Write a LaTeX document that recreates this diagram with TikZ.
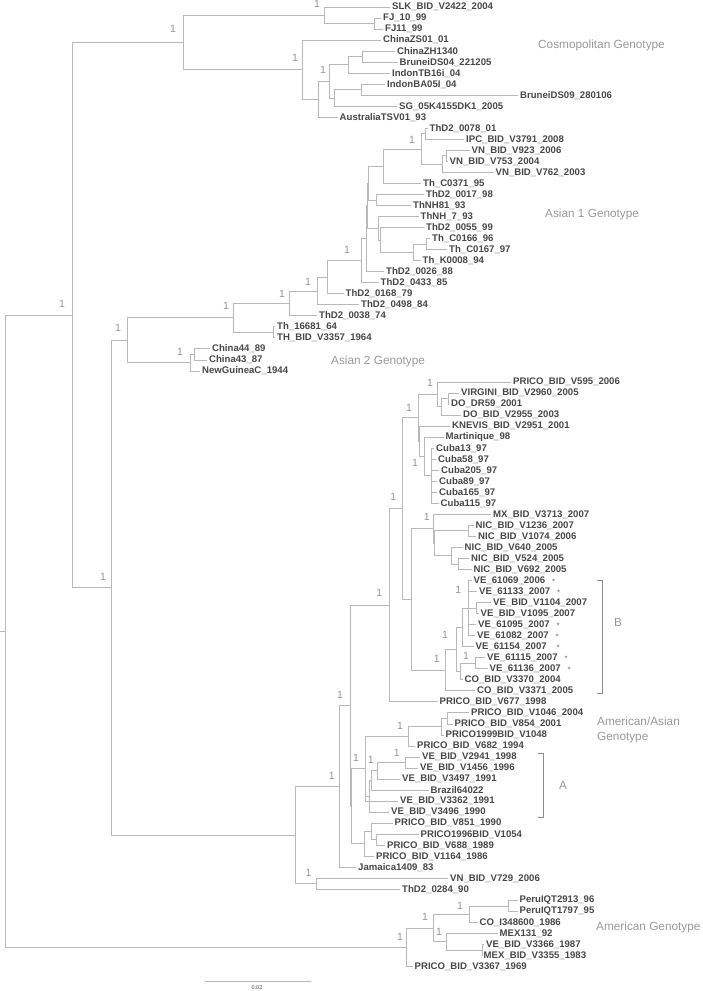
\documentclass[tikz,border=0pt]{standalone}
\usepackage{fontspec}
\setmainfont{Liberation Sans}
\usetikzlibrary{positioning}
\begin{document}
\begin{tikzpicture}[x=1pt, y=-1pt,
    br/.style={draw=black!28, line width=0.9pt},
    leaf/.style={anchor=west, inner xsep=2pt, inner ysep=0pt, text=black!72, font=\fontsize{9.6}{10}\selectfont\bfseries},
    supp/.style={text=black!42, inner sep=0pt, font=\fontsize{10.5}{11}\selectfont},
    geno/.style={anchor=west, inner sep=0pt, align=left, text=black!40, font=\fontsize{11.8}{15}\selectfont},
    ast/.style={inner sep=0.5pt, text=black!55, font=\fontsize{8}{8}\selectfont},
    brk/.style={draw=black!45, line width=0.8pt}]
    \useasboundingbox (0,0) rectangle (703,991);
    % taxa, one row each
    \foreach \x/\t [count=\i] in {
        390/SLK\_BID\_V2422\_2004, 381/FJ\_10\_99, 383/FJ11\_99, 381/ChinaZS01\_01,
        395/ChinaZH1340, 397.5/BruneiDS04\_221205, 390/IndonTB16i\_04, 385/IndonBA05I\_04,
        518/BruneiDS09\_280106, 397/SG\_05K4155DK1\_2005, 337.5/AustraliaTSV01\_93,
        427.5/ThD2\_0078\_01, 464/IPC\_BID\_V3791\_2008, 469.5/VN\_BID\_V923\_2006,
        447.5/VN\_BID\_V753\_2004, 493.5/VN\_BID\_V762\_2003, 421/Th\_C0371\_95,
        424/ThD2\_0017\_98, 411/ThNH81\_93, 418.5/ThNH\_7\_93, 424/ThD2\_0055\_99,
        430/Th\_C0166\_96, 447/Th\_C0167\_97, 420.5/Th\_K0008\_94, 384/ThD2\_0026\_88,
        378.5/ThD2\_0433\_85, 343.5/ThD2\_0168\_79, 359/ThD2\_0498\_84, 317/ThD2\_0038\_74,
        275/Th\_16681\_64, 275/TH\_BID\_V3357\_1964, 210/China44\_89, 207/China43\_87,
        200/NewGuineaC\_1944,
        511/PRICO\_BID\_V595\_2006, 459/VIRGINI\_BID\_V2960\_2005, 449/DO\_DR59\_2001,
        461/DO\_BID\_V2955\_2003, 450/KNEVIS\_BID\_V2951\_2001, 443.5/Martinique\_98,
        434/Cuba13\_97, 436/Cuba58\_97, 439/Cuba205\_97, 437/Cuba89\_97, 437/Cuba165\_97,
        438.5/Cuba115\_97, 491/MX\_BID\_V3713\_2007, 473.5/NIC\_BID\_V1236\_2007,
        476/NIC\_BID\_V1074\_2006, 462.5/NIC\_BID\_V640\_2005, 469/NIC\_BID\_V524\_2005,
        471.5/NIC\_BID\_V692\_2005, 471.5/VE\_61069\_2006, 477/VE\_61133\_2007,
        491/VE\_BID\_V1104\_2007, 478.5/VE\_BID\_V1095\_2007, 476/VE\_61095\_2007,
        475/VE\_61082\_2007, 473.5/VE\_61154\_2007, 485/VE\_61115\_2007, 487.5/VE\_61136\_2007,
        462.5/CO\_BID\_V3370\_2004, 475/CO\_BID\_V3371\_2005, 437.5/PRICO\_BID\_V677\_1998,
        469/PRICO\_BID\_V1046\_2004, 452.5/PRICO\_BID\_V854\_2001, 443.5/PRICO1999BID\_V1048,
        415/PRICO\_BID\_V682\_1994, 420/VE\_BID\_V2941\_1998, 418/VE\_BID\_V1456\_1996,
        400/VE\_BID\_V3497\_1991, 428.5/Brazil64022, 398/VE\_BID\_V3362\_1991,
        389/VE\_BID\_V3496\_1990, 392.5/PRICO\_BID\_V851\_1990, 418.5/PRICO1996BID\_V1054,
        385/PRICO\_BID\_V688\_1989, 374/PRICO\_BID\_V1164\_1986, 356/Jamaica1409\_83,
        448/VN\_BID\_V729\_2006, 400/ThD2\_0284\_90,
        517.5/PeruIQT2913\_96, 517.5/PeruIQT1797\_95, 477.5/CO\_I348600\_1986,
        497.5/MEX131\_92, 484/VE\_BID\_V3366\_1987, 481.5/MEX\_BID\_V3355\_1983,
        412.5/PRICO\_BID\_V3367\_1969}
        \node[leaf] (L\i) at (\x,{7+11.03*(\i-1)}) {\t};
    % internal nodes
    \coordinate (stem) at (0,631.23);
    \coordinate (root) at (5,631.23);
    \coordinate (n72) at (72,315.14);
    \coordinate (cos) at (183,42.5);
    \coordinate (sf) at (324,15.27);
    \coordinate (fj) at (374,23.55);
    \coordinate (c302) at (302,69.73);
    \coordinate (c318) at (318,99.38);
    \coordinate (c329) at (329,81.45);
    \coordinate (c348) at (348,64.91);
    \coordinate (c362) at (362,56.64);
    \coordinate (c334) at (334,98.0);
    \coordinate (cbs) at (361,89.73);
    \coordinate (nB) at (111,587.78);
    \coordinate (as) at (127,340.31);
    \coordinate (as2) at (190,362.72);
    \coordinate (chn) at (194,354.45);
    \coordinate (a233) at (233,317.91);
    \coordinate (th64) at (273,332.39);
    \coordinate (a289) at (289,303.44);
    \coordinate (a317) at (317,291.03);
    \coordinate (a327) at (327,277.26);
    \coordinate (a361) at (361,260.73);
    \coordinate (a366) at (366,238.72);
    \coordinate (ay) at (367,205.71);
    \coordinate (ap) at (368,183.13);
    \coordinate (a383) at (383,166.24);
    \coordinate (a421) at (421,149.0);
    \coordinate (a425) at (425,133.85);
    \coordinate (vn3) at (442,164.18);
    \coordinate (vn2) at (446,155.9);
    \coordinate (ar) at (376,200.03);
    \coordinate (aq) at (378,228.29);
    \coordinate (a380) at (380,240.01);
    \coordinate (a413) at (413,252.42);
    \coordinate (a426) at (426,244.15);
    \coordinate (n295) at (295,835.24);
    \coordinate (n316) at (316,883.89);
    \coordinate (n339) at (339,786.58);
    \coordinate (xn) at (350,705.82);
    \coordinate (n389) at (389,605.3);
    \coordinate (nca) at (402,508.7);
    \coordinate (car) at (418,417.87);
    \coordinate (pvdd) at (437,394.43);
    \coordinate (vdd) at (441.5,406.84);
    \coordinate (vd) at (448,398.57);
    \coordinate (z) at (419.5,441.31);
    \coordinate (w) at (424.5,456.48);
    \coordinate (cub) at (431.5,475.78);
    \coordinate (nv) at (411.7,599.52);
    \coordinate (mn) at (433,528.86);
    \coordinate (nica) at (434.5,543.34);
    \coordinate (nic2) at (468.3,530.93);
    \coordinate (nic3) at (451,555.75);
    \coordinate (nic5) at (458.3,564.02);
    \coordinate (n445) at (445,670.18);
    \coordinate (k) at (456,649.5);
    \coordinate (veb) at (462,627.44);
    \coordinate (vea) at (468,608.14);
    \coordinate (ved) at (476.5,608.14);
    \coordinate (nco) at (460,671.56);
    \coordinate (ve2) at (475,663.29);
    \coordinate (q) at (351.7,806.33);
    \coordinate (pa) at (365,768.76);
    \coordinate (pricoa) at (408.3,736.36);
    \coordinate (p3) at (441.7,726.71);
    \coordinate (p3a) at (447,718.44);
    \coordinate (a3) at (369.5,796.34);
    \coordinate (a4) at (371.7,780.48);
    \coordinate (a2) at (377.3,770.83);
    \coordinate (a2v) at (405,762.56);
    \coordinate (pg) at (364.3,843.9);
    \coordinate (pg1) at (371,831.5);
    \coordinate (pg2) at (376.7,839.77);
    \coordinate (amer) at (406,947.31);
    \coordinate (n433) at (433,928.01);
    \coordinate (n469) at (469,914.22);
    \coordinate (peru) at (508,905.95);
    \coordinate (n446) at (446,941.8);
    \coordinate (mex2) at (482,950.07);
    % branches
    \draw[br] (stem) -- (root);
    \foreach \p/\c in {root/n72, root/amer, n72/cos, n72/nB,
        cos/sf, cos/c302, sf/L1, sf/fj, fj/L2, fj/L3, c302/L4, c302/c318,
        c318/c329, c318/L11, c329/c348, c329/c334, c348/c362, c348/L7,
        c362/L5, c362/L6, c334/cbs, c334/L10, cbs/L8, cbs/L9,
        nB/as, nB/n295, as/a233, as/as2, as2/chn, as2/L34, chn/L32, chn/L33,
        a233/a289, a233/th64, th64/L30, th64/L31, a289/a317, a289/L29,
        a317/a327, a317/L28, a327/a361, a327/L27, a361/a366, a361/L26,
        a366/ay, a366/L25, ay/ap, ay/aq, ap/a383, ap/ar, a383/a421, a383/L17,
        a421/a425, a421/vn3, a425/L12, a425/L13, vn3/vn2, vn3/L16, vn2/L14, vn2/L15,
        ar/L18, ar/L19, aq/L20, aq/a380, a380/L21, a380/a413, a413/a426, a413/L24,
        a426/L22, a426/L23,
        n295/n339, n295/n316, n316/L80, n316/L81, n339/xn, n339/L79,
        xn/n389, xn/q, n389/nca, n389/L64, nca/car, nca/nv,
        car/pvdd, car/z, pvdd/L35, pvdd/vdd, vdd/vd, vdd/L38, vd/L36, vd/L37,
        z/L39, z/w, w/L40, w/cub, cub/L41, cub/L42, cub/L43, cub/L44, cub/L45, cub/L46,
        nv/mn, nv/n445, mn/L47, mn/nica, nica/nic2, nica/nic3, nic2/L48, nic2/L49,
        nic3/L50, nic3/nic5, nic5/L51, nic5/L52,
        n445/k, n445/L63, k/veb, k/nco, veb/vea, veb/L59,
        vea/L53, vea/L54, vea/ved, vea/L57, vea/L58, ved/L55, ved/L56,
        nco/ve2, nco/L62, ve2/L60, ve2/L61,
        q/pa, q/pg, pa/pricoa, pa/a3, pa/L73, pricoa/p3, pricoa/L68,
        p3/p3a, p3/L67, p3a/L65, p3a/L66, a3/a4, a3/L74, a4/a2, a4/L72,
        a2/a2v, a2/L71, a2v/L69, a2v/L70, pg/pg1, pg/L78, pg1/L75, pg1/pg2,
        pg2/L76, pg2/L77,
        amer/n433, amer/L88, n433/n469, n433/n446, n469/peru, n469/L84,
        peru/L82, peru/L83, n446/L85, n446/mex2, mex2/L86, mex2/L87}
        \draw[br] (\p) |- (\c);
    % posterior values
    \foreach \x/\y in {317/4, 173/29, 295/58, 323/70, 62/304, 103/577, 118/328,
        226/306, 282/294, 308/282, 347/250, 412/140, 180/352,
        430/383, 409/407.5, 415/463, 393.3/496.7, 379.3/593.3, 426.7/516.7,
        458.3/590, 445/635, 436.7/659.3, 466/656, 340/695, 331.7/776,
        308.5/872.7, 400/726, 356/757.7, 370.7/760, 396.7/752.7,
        425/917, 460/906, 439/932, 400/937}
        \node[supp] at (\x,\y) {1};
    % marked isolates
    \foreach \i in {53,54,57,58,60,61}
        \node[ast, right=4pt of L\i, yshift=-1pt] {*};
    \node[ast, right=7pt of L59, yshift=-1pt] {*};
    % clade brackets
    \draw[brk] (597,580) -- (602,580) -- (602,693) -- (597,693);
    \draw[brk] (538,753) -- (543,753) -- (543,817) -- (538,817);
    \node[geno, anchor=center] (cladeB) at (618,622) {B};
    \node[geno, anchor=center] (cladeA) at (563,785) {A};
    % genotype names
    \node[geno] (gcos) at (538,45) {Cosmopolitan Genotype};
    \node[geno] (gas1) at (545,214) {Asian 1 Genotype};
    \node[geno] (gas2) at (331,361) {Asian 2 Genotype};
    \node[geno] (gamas) at (597,729.5) {American/Asian\\Genotype};
    \node[geno] (gam) at (596,927) {American Genotype};
    % scale bar
    \coordinate (sb1) at (205,981);
    \coordinate (sb2) at (311,981);
    \draw[br, line width=0.7pt] (sb1) -- (sb2);
    \node[inner sep=0pt, text=black!70, font=\fontsize{5.5}{6}\selectfont] (sbl) at (257,988) {0.02};
\end{tikzpicture}
\end{document}
